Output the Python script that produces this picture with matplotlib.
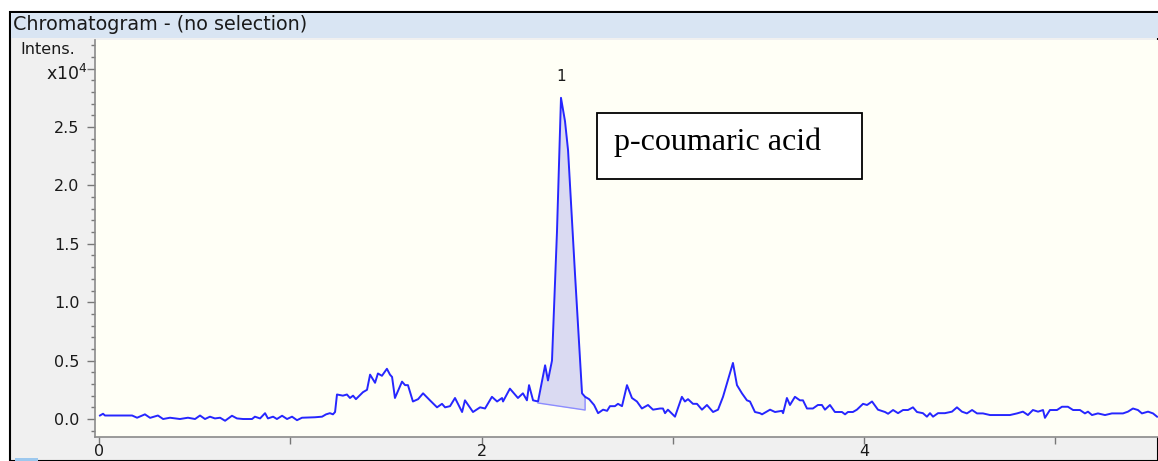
import matplotlib
matplotlib.use('Agg')
from matplotlib import pyplot as plt
from matplotlib.patches import Rectangle
from matplotlib.ticker import MultipleLocator
import numpy as np

# retention time (min) and intensity (x10^4)
time = [0.005, 0.021, 0.031, 0.173, 0.199, 0.240, 0.267, 0.308, 0.335, 0.371,
        0.423, 0.465, 0.502, 0.528, 0.554, 0.580, 0.606, 0.633, 0.659, 0.695,
        0.721, 0.753, 0.800, 0.815, 0.842, 0.868, 0.883, 0.910, 0.930, 0.957,
        0.983, 1.009, 1.035, 1.061, 1.129, 1.166, 1.187, 1.207, 1.223, 1.234,
        1.244, 1.275, 1.296, 1.312, 1.328, 1.343, 1.380, 1.401, 1.417, 1.443,
        1.458, 1.479, 1.505, 1.521, 1.532, 1.547, 1.584, 1.600, 1.615, 1.641,
        1.668, 1.694, 1.730, 1.767, 1.793, 1.809, 1.835, 1.861, 1.898, 1.913,
        1.955, 1.992, 2.018, 2.054, 2.081, 2.107, 2.112, 2.148, 2.190, 2.216,
        2.237, 2.248, 2.269, 2.295, 2.332, 2.347, 2.368, 2.394, 2.415, 2.436,
        2.452, 2.488, 2.525, 2.541, 2.562, 2.588, 2.609, 2.635, 2.656, 2.671,
        2.697, 2.713, 2.734, 2.760, 2.786, 2.812, 2.838, 2.870, 2.896, 2.933,
        2.948, 2.959, 2.974, 3.011, 3.047, 3.063, 3.079, 3.105, 3.126, 3.152,
        3.178, 3.210, 3.236, 3.262, 3.314, 3.335, 3.361, 3.387, 3.403, 3.429,
        3.455, 3.466, 3.508, 3.534, 3.570, 3.576, 3.596, 3.612, 3.638, 3.664,
        3.680, 3.701, 3.732, 3.758, 3.779, 3.795, 3.821, 3.847, 3.884, 3.900,
        3.915, 3.941, 3.962, 3.994, 4.015, 4.041, 4.072, 4.109, 4.125, 4.151,
        4.177, 4.203, 4.229, 4.255, 4.276, 4.307, 4.328, 4.344, 4.360, 4.386,
        4.422, 4.459, 4.485, 4.511, 4.537, 4.564, 4.590, 4.621, 4.658, 4.710,
        4.762, 4.799, 4.830, 4.856, 4.882, 4.909, 4.935, 4.945, 4.971, 5.008,
        5.034, 5.065, 5.092, 5.128, 5.154, 5.170, 5.191, 5.222, 5.259, 5.295,
        5.327, 5.353, 5.379, 5.405, 5.431, 5.452, 5.484, 5.510, 5.531]
intens = [0.03, 0.045, 0.03, 0.03, 0.011, 0.04, 0.01, 0.03, 0.0, 0.011,
          0.0, 0.011, 0.0, 0.03, 0.0, 0.02, 0.005, 0.011, -0.015, 0.028,
          0.005, 0.0, 0.0, 0.02, 0.005, 0.05, 0.005, 0.02, 0.0, 0.028,
          0.0, 0.02, -0.01, 0.011, 0.015, 0.02, 0.04, 0.05, 0.04, 0.06,
          0.21, 0.2, 0.21, 0.18, 0.2, 0.17, 0.23, 0.25, 0.38, 0.31,
          0.39, 0.37, 0.43, 0.38, 0.36, 0.18, 0.32, 0.29, 0.29, 0.15,
          0.17, 0.22, 0.16, 0.1, 0.13, 0.1, 0.11, 0.18, 0.06, 0.16,
          0.06, 0.1, 0.09, 0.19, 0.15, 0.18, 0.15, 0.26, 0.18, 0.22,
          0.16, 0.29, 0.16, 0.15, 0.46, 0.33, 0.5, 1.6, 2.75, 2.55,
          2.3, 1.25, 0.22, 0.19, 0.17, 0.12, 0.05, 0.08, 0.07, 0.11,
          0.11, 0.13, 0.11, 0.29, 0.18, 0.15, 0.09, 0.12, 0.08, 0.09,
          0.09, 0.05, 0.08, 0.02, 0.19, 0.15, 0.17, 0.13, 0.13, 0.08,
          0.12, 0.06, 0.08, 0.19, 0.48, 0.29, 0.22, 0.16, 0.15, 0.06,
          0.05, 0.04, 0.08, 0.06, 0.07, 0.05, 0.18, 0.12, 0.19, 0.16,
          0.16, 0.09, 0.09, 0.12, 0.12, 0.08, 0.12, 0.06, 0.06, 0.04,
          0.06, 0.06, 0.08, 0.13, 0.12, 0.15, 0.08, 0.06, 0.045, 0.077,
          0.05, 0.077, 0.077, 0.1, 0.06, 0.05, 0.02, 0.05, 0.02, 0.05,
          0.05, 0.063, 0.1, 0.063, 0.048, 0.077, 0.048, 0.048, 0.034, 0.034,
          0.034, 0.048, 0.063, 0.034, 0.077, 0.063, 0.077, 0.01, 0.077, 0.077,
          0.105, 0.105, 0.077, 0.077, 0.048, 0.063, 0.034, 0.048, 0.034, 0.048,
          0.048, 0.048, 0.063, 0.09, 0.077, 0.048, 0.063, 0.048, 0.02]

# integration of peak 1: start/end of the drawn baseline
peak_start = (2.295, 0.137)
peak_end = (2.541, 0.077)
peak_apex = (2.415, 2.75)
peak_label = '1'
compound = 'p-coumaric acid'

W, H = 1158, 461
fig = plt.figure(figsize=(W / 100, H / 100), dpi=100)
fig.patch.set_facecolor('white')

# window frame, title bar
fig.patches.append(Rectangle((10 / W, 0), 1 - 10 / W, 1 - 12 / H, transform=fig.transFigure,
                             facecolor='#f0f0f0', edgecolor='black', lw=1.5, zorder=0))
fig.patches.append(Rectangle((11 / W, 1 - 38 / H), 1, 25 / H, transform=fig.transFigure,
                             facecolor='#d9e5f3', edgecolor='none', zorder=1))
fig.patches.append(Rectangle((15 / W, 0), 23 / W, 3 / H, transform=fig.transFigure,
                             facecolor='#9cc8ee', edgecolor='none', zorder=1))
fig.text(13 / W, 1 - 25 / H, 'Chromatogram - (no selection)', fontsize=13.8,
         color='#1a1a1a', va='center', ha='left')

ax = fig.add_axes([95 / W, 1 - 437 / H, 1 - 95 / W, 397 / H])
ax.set_zorder(3)
ax.set_facecolor('#fffff6')
ax.set_xlim(-0.021, 5.536)
ax.set_ylim(-0.154, 3.245)

t = np.array(time)
y = np.array(intens)
ax.plot(t, y, color='#2626ff', lw=1.4, zorder=3)

# shaded peak area above the integration baseline
m = (t >= peak_start[0]) & (t <= peak_end[0])
tt = np.concatenate([[peak_start[0]], t[m], [peak_end[0]]])
yy = np.concatenate([[peak_start[1]], y[m], [np.interp(peak_end[0], t, y)]])
base = np.interp(tt, [peak_start[0], peak_end[0]], [peak_start[1], peak_end[1]])
ax.fill_between(tt, base, yy, color='#dadaf2', lw=0, zorder=2)
ax.plot([peak_start[0], peak_end[0], peak_end[0]],
        [peak_start[1], peak_end[1], np.interp(peak_end[0], t, y)],
        color='#8c8cff', lw=1.0, zorder=2)

ax.text(peak_apex[0], peak_apex[1] + 0.12, peak_label, ha='center', va='bottom',
        fontsize=11, color='#1a1a1a')

for s in ['top', 'right']:
    ax.spines[s].set_visible(False)
for s in ['left', 'bottom']:
    ax.spines[s].set_color('#8a8a8a')
    ax.spines[s].set_linewidth(1.2)

ax.xaxis.set_minor_locator(MultipleLocator(1))
ax.yaxis.set_minor_locator(MultipleLocator(0.1))
ax.set_xticks([0, 2, 4])
ax.set_xticklabels(['0', '2', '4'])
yt = [0.0, 0.5, 1.0, 1.5, 2.0, 2.5, 3.0]
ax.set_yticks(yt)
ax.set_yticklabels(['0.0', '0.5', '1.0', '1.5', '2.0', '2.5', ''])
ax.tick_params(axis='both', which='major', length=6, width=1, color='#777777',
               labelsize=11.5, labelcolor='#1a1a1a')
ax.tick_params(axis='both', which='minor', length=3, width=1, color='#777777')
ax.tick_params(axis='x', which='both', length=5, pad=0)
ax.tick_params(axis='y', pad=5)

fig.text(75 / W, 1 - 50 / H, 'Intens.', fontsize=11.5, color='#1a1a1a', ha='right', va='center')
fig.text(88 / W, 1 - 74 / H, r'x10$^4$', fontsize=12.5, color='#1a1a1a', ha='right', va='center')

# compound box
fig.patches.append(Rectangle((597 / W, 1 - 179 / H), 265 / W, 66 / H, transform=fig.transFigure,
                             facecolor='white', edgecolor='black', lw=1.3, zorder=5))
fig.text(614 / W, 1 - 150 / H, compound, fontsize=23, family='Liberation Serif',
         color='black', ha='left', va='baseline', zorder=6)

fig.savefig('out.png', dpi=100)
